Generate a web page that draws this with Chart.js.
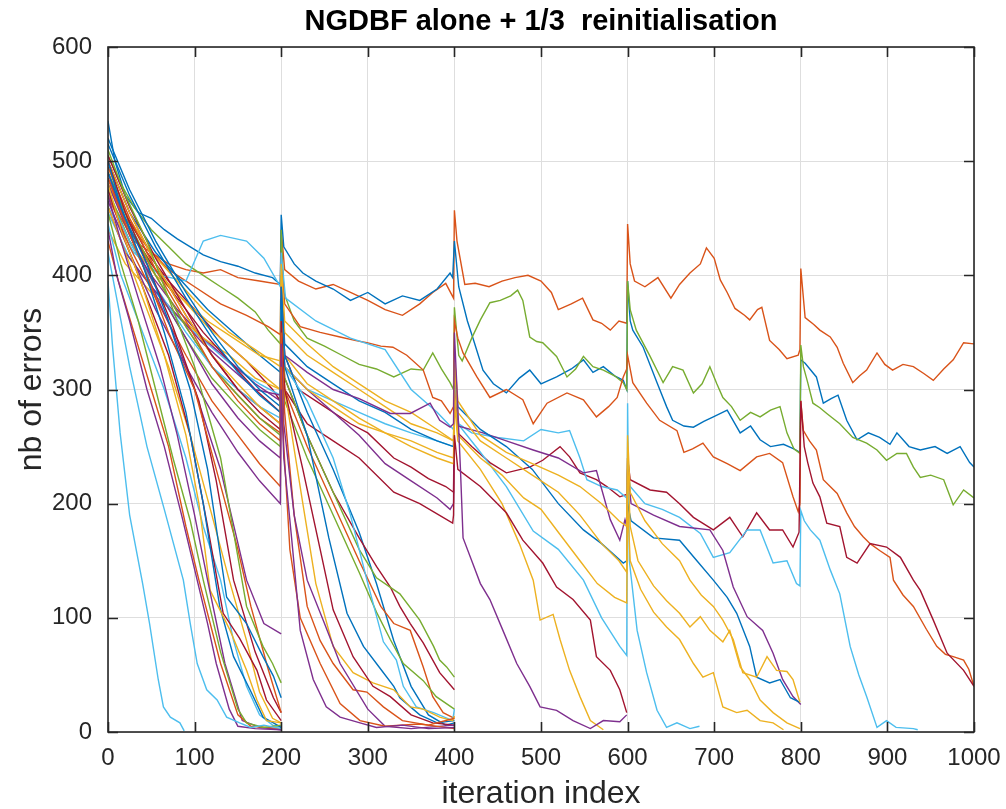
<!DOCTYPE html>
<html>
<head>
<meta charset="utf-8">
<title>NGDBF alone + 1/3 reinitialisation</title>
<script src="https://cdn.jsdelivr.net/npm/chart.js@4.4.1/dist/chart.umd.min.js"></script>
<style>
  html, body { margin: 0; padding: 0; background: #fff; }
  #wrap { width: 1006px; height: 809px; }
</style>
</head>
<body>
<div id="wrap"><canvas id="chart" width="1006" height="809"></canvas></div>
<script>
// error count per iteration, one array of [iteration, errors] per decoding run
// runs that converge before the first reinitialisation
const runA1 = [[0,395],[5,340],[14,262],[25,190],[40,130],[48,95],[58,46],[64,22],[72,13],[83,8],[88,1]];
const runA2 = [[0,420],[10,380],[25,320],[45,250],[65,195],[87,133],[95,95],[103,60],[114,37],[126,28],[137,13],[152,8],[165,4],[180,6],[200,3]];
const runA3 = [[0,440],[10,400],[25,360],[45,300],[65,250],[85,190],[103,133],[115,95],[125,60],[140,20],[150,5],[170,3],[200,2]];
const runA4 = [[0,455],[15,410],[35,360],[55,300],[75,240],[95,185],[110,133],[130,70],[150,20],[160,8],[180,4],[200,6]];
const runA5 = [[0,430],[12,395],[30,350],[50,300],[70,250],[90,180],[105,133],[130,60],[150,15],[165,5],[200,3]];
const runA6 = [[0,470],[15,430],[35,380],[60,320],[80,260],[100,190],[115,133],[135,60],[155,10],[175,4],[200,2]];
const runA7 = [[0,480],[15,440],[40,390],[65,330],[90,260],[105,200],[118,124],[141,89],[160,54],[172,28],[183,10],[200,8]];
const runA8 = [[0,500],[15,460],[40,410],[65,350],[90,280],[110,200],[129,110],[145,66],[164,37],[179,13],[191,8],[200,4]];
const runA9 = [[0,475],[20,430],[45,380],[70,330],[95,260],[115,180],[133,104],[152,82],[172,54],[183,28],[200,10]];
const runA10 = [[0,490],[20,450],[45,410],[70,360],[95,300],[115,230],[137,118],[160,95],[179,66],[191,49],[200,30]];
const runA11 = [[0,510],[20,470],[45,430],[70,380],[100,320],[130,240],[160,110],[179,75],[190,60],[200,43]];
const runA12 = [[0,485],[20,445],[45,400],[70,350],[100,300],[125,230],[150,160],[165,110],[185,55],[200,17]];
const runA13 = [[0,500],[20,455],[45,410],[75,355],[105,290],[125,220],[145,133],[170,70],[191,30],[200,17]];
const runA14 = [[0,445],[15,400],[40,350],[65,300],[90,240],[110,180],[130,133],[145,80],[160,40],[175,15],[190,6],[200,4]];
const runA15 = [[0,460],[20,420],[45,370],[70,320],[95,260],[120,190],[140,133],[160,80],[175,35],[190,12],[200,8]];
const runA16 = [[0,490],[20,445],[45,400],[75,350],[100,300],[130,230],[160,133],[180,95],[200,86]];

// runs that converge between 200 and 400
const runB1 = [[0,465],[25,420],[55,370],[90,320],[120,280],[150,245],[175,220],[199,200],[200,300],[203,240],[212,170],[222,89],[237,46],[252,22],[268,13],[291,8],[310,4],[340,6],[370,3],[400,4]];
const runB2 = [[0,470],[25,425],[55,380],[90,330],[120,290],[150,260],[175,235],[199,215],[200,320],[203,250],[210,160],[222,100],[245,60],[268,25],[291,10],[320,5],[360,7],[400,3]];
const runB3 = [[0,480],[25,435],[55,390],[90,345],[120,305],[150,275],[175,255],[199,240],[200,340],[203,270],[215,190],[230,133],[250,95],[268,60],[300,20],[320,5],[350,3],[400,6]];
const runB4 = [[0,495],[25,450],[55,405],[90,360],[120,320],[150,290],[175,270],[199,255],[200,350],[204,280],[215,190],[230,110],[245,80],[260,60],[283,37],[299,35],[318,22],[340,10],[370,6],[400,12]];
const runB5 = [[0,505],[25,460],[55,415],[90,370],[120,330],[150,300],[175,280],[199,265],[200,360],[204,300],[225,230],[245,160],[260,107],[283,66],[306,40],[326,31],[350,15],[375,8],[400,6]];
const runB6 = [[0,500],[25,455],[55,410],[90,365],[120,330],[150,305],[175,285],[199,270],[200,360],[204,300],[225,200],[240,130],[260,75],[283,52],[306,43],[330,37],[349,22],[364,20],[383,13],[398,10],[400,14]];
const runB7 = [[0,515],[25,470],[55,425],[90,380],[120,345],[150,315],[175,295],[199,280],[200,380],[204,320],[230,260],[255,170],[276,104],[295,75],[315,55],[330,40],[337,30],[360,15],[380,8],[400,10]];
const runB8 = [[0,470],[25,430],[55,390],[90,350],[120,320],[150,300],[175,285],[199,275],[200,370],[204,320],[230,290],[260,240],[280,190],[299,133],[318,79],[333,63],[341,40],[356,22],[376,17],[398,10],[400,20]];
const runB9 = [[0,490],[25,445],[55,400],[90,355],[120,320],[150,295],[175,275],[199,260],[200,370],[204,310],[230,260],[260,210],[290,160],[310,135],[337,121],[360,98],[376,75],[383,63],[391,57],[400,48]];
const runB10 = [[0,475],[25,430],[55,390],[90,345],[120,310],[150,285],[175,265],[199,250],[200,350],[204,290],[230,240],[260,190],[290,140],[310,105],[326,81],[341,60],[364,45],[379,31],[400,20]];
const runB11 = [[0,500],[25,455],[55,410],[90,365],[120,330],[150,300],[175,285],[199,270],[200,370],[204,310],[230,260],[260,210],[290,170],[310,145],[326,127],[337,110],[349,95],[364,78],[383,52],[400,37]];
const runB12 = [[0,485],[25,440],[55,400],[90,355],[120,320],[150,295],[175,275],[199,262],[200,360],[204,300],[230,250],[260,200],[290,150],[315,110],[330,95],[349,89],[364,57],[375,31],[387,17],[400,12]];
const runB13 = [[0,520],[25,475],[55,430],[90,385],[120,350],[150,320],[175,300],[199,285],[200,390],[204,330],[230,280],[260,230],[290,175],[310,130],[330,80],[350,40],[370,15],[390,6],[400,8]];

// runs that stop between 400 and 600
const runP600 = [[0,460],[20,420],[50,390],[80,365],[110,340],[140,320],[170,300],[199,295],[200,390],[204,330],[230,315],[260,300],[290,292],[326,279],[349,279],[372,288],[383,273],[395,267],[399,270],[400,350],[403,300],[407,230],[410,170],[421,148],[430,130],[441,116],[456,89],[472,60],[487,40],[499,22],[518,19],[537,10],[557,3],[572,10],[591,9],[599,15]];
const runR600 = [[0,485],[25,440],[50,410],[80,380],[110,350],[140,325],[170,300],[199,280],[200,370],[204,300],[230,270],[260,255],[290,240],[330,210],[360,200],[398,183],[399,190],[400,260],[404,230],[430,215],[460,192],[479,168],[502,148],[518,127],[537,116],[557,98],[564,66],[580,54],[591,37],[599,17]];
const runY572 = [[0,480],[25,440],[55,405],[85,380],[115,355],[145,335],[175,315],[199,300],[200,390],[204,330],[230,305],[260,290],[290,275],[320,262],[350,250],[380,240],[399,235],[400,290],[404,255],[430,230],[455,200],[475,165],[491,133],[499,98],[514,103],[522,81],[533,54],[545,31],[557,10],[572,2]];

// runs that stop between 600 and 800
const runYa = [[0,495],[20,455],[50,420],[80,395],[110,370],[140,350],[170,335],[199,320],[200,400],[204,350],[230,330],[260,315],[290,300],[320,285],[350,270],[380,262],[399,255],[400,320],[404,280],[430,255],[460,240],[490,225],[520,210],[545,190],[570,165],[590,150],[599,140],[600,240],[603,180],[612,150],[630,128],[645,115],[660,104],[672,92],[684,101],[695,89],[710,79],[718,89],[730,57],[741,46],[753,28],[768,17],[784,8],[799,3]];
const runYb = [[0,440],[20,410],[50,385],[80,365],[110,345],[140,330],[170,310],[199,300],[200,380],[204,320],[230,300],[260,285],[290,270],[320,262],[350,255],[380,245],[399,240],[400,300],[404,260],[430,240],[455,225],[480,205],[500,195],[520,175],[545,150],[565,130],[585,118],[599,113],[600,200],[603,150],[615,125],[630,105],[645,92],[660,81],[676,60],[687,48],[699,52],[710,22],[726,17],[738,19],[753,10],[768,8],[780,2]];
const runYc = [[0,470],[25,430],[55,400],[85,380],[115,360],[145,345],[175,330],[199,325],[200,410],[204,360],[230,340],[260,320],[290,305],[320,290],[350,280],[380,265],[399,255],[400,330],[404,290],[430,260],[460,245],[490,235],[520,225],[545,215],[570,200],[590,185],[599,180],[600,260],[603,210],[620,185],[640,165],[660,150],[672,133],[685,120],[699,110],[710,98],[722,81],[733,52],[749,48],[761,66],[772,54],[784,53],[791,46],[799,26]];
const runB800 = [[0,500],[25,455],[55,420],[85,395],[115,370],[145,350],[175,330],[199,315],[200,400],[204,340],[230,320],[260,305],[290,290],[320,280],[350,265],[380,255],[399,250],[400,320],[404,285],[430,265],[460,250],[490,230],[520,200],[549,177],[570,165],[595,148],[599,150],[600,200],[604,185],[630,170],[660,168],[680,150],[699,133],[715,118],[726,104],[741,75],[749,48],[764,43],[776,46],[788,30],[799,26]];
const runP800 = [[0,470],[25,430],[50,400],[80,370],[110,345],[140,325],[170,305],[199,290],[200,380],[204,320],[230,300],[260,280],[290,260],[320,235],[350,220],[380,205],[395,195],[399,200],[400,300],[404,268],[433,262],[460,255],[491,247],[520,240],[549,227],[564,229],[580,186],[591,168],[597,186],[599,180],[600,230],[604,200],[630,190],[660,180],[695,177],[710,159],[722,127],[738,101],[756,89],[768,69],[779,46],[791,31],[800,24]];
const runLB683 = [[0,455],[25,415],[55,385],[85,360],[115,340],[145,320],[175,305],[199,295],[200,380],[204,320],[230,300],[260,290],[290,280],[320,270],[350,262],[380,255],[399,250],[400,310],[404,270],[430,245],[460,215],[491,176],[520,160],[549,133],[570,100],[591,75],[599,67],[600,288],[602,150],[611,89],[622,52],[634,19],[645,4],[657,8],[672,3],[683,5]];

// runs still decoding after the last reinitialisation
const runLB935 = [[0,460],[30,420],[60,400],[90,395],[110,430],[130,435],[160,430],[180,415],[199,390],[200,420],[205,380],[240,360],[280,345],[320,335],[350,300],[380,280],[399,265],[400,300],[405,270],[420,262],[450,258],[480,255],[500,265],[520,262],[533,264],[545,240],[553,221],[570,215],[588,212],[599,205],[600,230],[603,215],[620,200],[640,195],[660,188],[684,174],[699,153],[718,157],[738,177],[753,177],[768,148],[784,150],[795,130],[799,128],[800,194],[804,185],[811,177],[822,168],[834,142],[845,121],[857,75],[867,50],[876,31],[888,4],[899,10],[910,4],[930,3],[935,2]];
const runR1000 = [[0,490],[20,455],[45,420],[70,395],[100,370],[130,345],[160,325],[190,300],[199,290],[200,400],[204,330],[220,300],[250,285],[280,270],[300,262],[330,240],[350,232],[370,222],[390,215],[399,210],[400,300],[404,262],[420,250],[441,236],[460,227],[487,232],[502,238],[522,250],[533,241],[545,227],[564,221],[576,215],[591,206],[599,208],[600,240],[603,221],[626,212],[645,210],[660,200],[676,188],[699,177],[718,188],[733,171],[749,192],[764,177],[779,177],[791,162],[798,175],[800,290],[804,250],[808,236],[814,218],[822,206],[830,183],[845,180],[853,153],[865,148],[880,165],[899,162],[915,153],[930,133],[938,124],[953,98],[969,69],[988,54],[1000,40]];
const runO1000b = [[0,480],[20,450],[45,425],[70,405],[100,390],[130,375],[160,365],[185,355],[199,348],[200,420],[204,375],[222,355],[245,350],[268,346],[285,343],[299,341],[315,338],[329,337],[345,330],[364,317],[375,293],[385,290],[395,279],[399,285],[400,360],[404,345],[410,332],[426,311],[441,293],[460,300],[479,291],[491,270],[507,288],[530,297],[549,291],[564,276],[578,285],[588,293],[595,311],[599,318],[600,330],[606,306],[622,288],[637,273],[657,264],[665,245],[675,248],[687,253],[699,241],[715,235],[730,229],[749,241],[764,244],[779,236],[791,206],[797,193],[799,200],[800,290],[803,264],[810,255],[818,247],[826,221],[842,209],[853,192],[862,180],[872,171],[880,165],[891,159],[903,153],[907,133],[918,120],[930,110],[945,90],[957,75],[967,68],[976,66],[988,63],[994,55],[1000,40]];
const runG1000 = [[0,505],[15,480],[30,460],[50,440],[70,425],[90,410],[110,400],[130,390],[150,380],[170,368],[185,352],[199,340],[200,440],[203,385],[215,360],[230,345],[250,338],[270,330],[290,322],[310,318],[330,311],[350,318],[364,317],[375,332],[385,318],[395,306],[399,300],[400,372],[405,330],[409,325],[420,345],[430,361],[441,376],[453,378],[465,382],[473,387],[479,378],[487,346],[495,342],[502,341],[518,329],[530,311],[540,318],[549,329],[560,320],[572,317],[585,312],[595,306],[599,300],[600,395],[603,370],[610,352],[626,329],[641,306],[652,320],[664,317],[676,297],[686,305],[695,320],[703,305],[710,293],[720,285],[730,273],[742,280],[753,276],[765,282],[776,285],[784,262],[792,248],[799,244],[800,339],[803,320],[808,306],[814,288],[822,284],[830,279],[845,270],[860,258],[876,253],[888,247],[899,238],[911,244],[922,244],[930,232],[938,223],[950,225],[965,221],[976,199],[988,212],[1000,205]];
const runB1000 = [[0,535],[8,500],[20,470],[35,455],[50,450],[65,440],[80,432],[95,425],[110,418],[130,412],[150,408],[170,402],[190,398],[199,392],[200,453],[203,425],[215,410],[225,402],[240,395],[260,388],[280,378],[300,385],[320,375],[340,382],[360,378],[380,388],[395,402],[398,398],[400,430],[405,390],[415,360],[421,346],[433,317],[445,305],[460,297],[475,310],[487,317],[500,305],[518,311],[535,318],[549,326],[560,315],[572,320],[585,312],[595,308],[599,300],[600,395],[603,360],[606,352],[618,337],[634,306],[645,285],[652,273],[665,268],[676,267],[688,272],[699,276],[715,282],[730,262],[742,268],[753,256],[765,250],[780,252],[792,248],[799,245],[800,326],[805,323],[818,311],[826,288],[835,292],[843,295],[853,273],[865,256],[878,262],[891,258],[903,252],[911,262],[925,250],[938,247],[955,250],[969,244],[984,250],[995,236],[1000,232]];
const runO1000a = [[0,470],[15,450],[30,430],[50,420],[70,410],[90,405],[110,402],[130,405],[150,398],[175,395],[199,392],[200,440],[204,405],[220,395],[240,388],[260,392],[280,385],[300,378],[320,370],[340,365],[360,375],[375,385],[390,393],[399,380],[400,457],[403,430],[412,392],[424,393],[440,390],[455,395],[470,398],[485,400],[500,395],[512,385],[520,370],[535,375],[548,380],[560,361],[570,358],[580,352],[590,360],[599,358],[600,445],[603,410],[608,395],[620,390],[635,398],[650,380],[660,392],[672,402],[684,410],[691,424],[700,415],[707,396],[715,385],[724,371],[735,365],[741,361],[750,370],[755,372],[764,343],[775,335],[784,327],[797,330],[799,335],[800,406],[803,380],[805,363],[815,357],[822,352],[834,346],[842,337],[849,323],[860,306],[868,312],[876,317],[888,332],[897,322],[906,317],[918,322],[930,320],[942,314],[953,308],[965,318],[976,326],[988,341],[1000,340]];

// axis ticks
const xTicks = [0, 100, 200, 300, 400, 500, 600, 700, 800, 900, 1000];
const yTicks = [0, 100, 200, 300, 400, 500, 600];

const COLORS = {
  blue: '#0072BD', orange: '#D95319', yellow: '#EDB120', purple: '#7E2F8E',
  green: '#77AC30', lblue: '#4DBEEE', red: '#A2142F'
};

const runs = [
  [runA1, 'lblue'], [runA2, 'lblue'], [runA3, 'purple'], [runA4, 'green'], [runA5, 'orange'],
  [runA6, 'purple'], [runA7, 'yellow'], [runA8, 'blue'], [runA9, 'red'], [runA10, 'blue'],
  [runA11, 'green'], [runA12, 'orange'], [runA13, 'red'], [runA14, 'lblue'], [runA15, 'yellow'],
  [runA16, 'purple'],
  [runB1, 'purple'], [runB2, 'orange'], [runB3, 'purple'], [runB4, 'orange'], [runB5, 'red'],
  [runB6, 'yellow'], [runB7, 'blue'], [runB8, 'lblue'], [runB9, 'green'], [runB10, 'green'],
  [runB11, 'red'], [runB12, 'orange'], [runB13, 'blue'],
  [runP600, 'purple'], [runR600, 'red'], [runY572, 'yellow'],
  [runYa, 'yellow'], [runYb, 'yellow'], [runYc, 'yellow'], [runB800, 'blue'], [runP800, 'purple'],
  [runLB683, 'lblue'],
  [runLB935, 'lblue'], [runR1000, 'red'], [runO1000b, 'orange'], [runG1000, 'green'],
  [runB1000, 'blue'], [runO1000a, 'orange']
];

const FONT = "'Liberation Sans', Arial, Helvetica, sans-serif";
const INK = '#262626';

// box, inward tick marks, title and axis labels drawn the way MATLAB does
const matlabFrame = {
  id: 'matlabFrame',
  afterDraw(chart) {
    const { ctx, chartArea: a, scales } = chart;
    ctx.save();
    ctx.strokeStyle = INK;
    ctx.lineWidth = 1.6;
    ctx.strokeRect(a.left, a.top, a.right - a.left, a.bottom - a.top);
    const len = 10;
    ctx.beginPath();
    xTicks.forEach(t => {
      const px = Math.round(scales.x.getPixelForValue(t)) + 0.5;
      ctx.moveTo(px, a.bottom); ctx.lineTo(px, a.bottom - len);
      ctx.moveTo(px, a.top); ctx.lineTo(px, a.top + len);
    });
    yTicks.forEach(t => {
      const py = Math.round(scales.y.getPixelForValue(t)) + 0.5;
      ctx.moveTo(a.left, py); ctx.lineTo(a.left + len, py);
      ctx.moveTo(a.right, py); ctx.lineTo(a.right - len, py);
    });
    ctx.stroke();

    ctx.fillStyle = '#000';
    ctx.textAlign = 'center';
    ctx.textBaseline = 'middle';
    ctx.font = 'bold 29px ' + FONT;
    ctx.fillText('NGDBF alone + 1/3  reinitialisation', (a.left + a.right) / 2, 22);

    ctx.fillStyle = INK;
    ctx.font = '32px ' + FONT;
    ctx.fillText('iteration index', (a.left + a.right) / 2, 794);
    ctx.translate(32, (a.top + a.bottom) / 2);
    ctx.rotate(-Math.PI / 2);
    ctx.fillText('nb of errors', 0, 0);
    ctx.restore();
  }
};

new Chart(document.getElementById('chart'), {
  type: 'line',
  data: {
    datasets: runs.map(([pts, c]) => ({
      data: pts.map(([x, y]) => ({ x, y })),
      borderColor: COLORS[c],
      borderWidth: 1.4,
      pointRadius: 0,
      fill: false,
      tension: 0
    }))
  },
  options: {
    responsive: false,
    animation: false,
    parsing: false,
    layout: { padding: { top: 47, right: 32, left: 0, bottom: 0 } },
    plugins: { legend: { display: false }, tooltip: { enabled: false } },
    scales: {
      x: {
        type: 'linear', min: 0, max: 1000,
        afterFit(s) { s.height = 77; s.paddingLeft = 0; s.paddingRight = 0; },
        afterBuildTicks(s) { s.ticks = xTicks.map(v => ({ value: v })); },
        grid: { color: '#dedede', lineWidth: 1, drawTicks: false },
        border: { display: false },
        ticks: { color: INK, font: { family: FONT, size: 24 }, padding: 12, maxRotation: 0, callback: v => String(v) }
      },
      y: {
        type: 'linear', min: 0, max: 600,
        afterFit(s) { s.width = 108; s.paddingTop = 0; s.paddingBottom = 0; },
        afterBuildTicks(s) { s.ticks = yTicks.map(v => ({ value: v })); },
        grid: { color: '#dedede', lineWidth: 1, drawTicks: false },
        border: { display: false },
        ticks: { color: INK, font: { family: FONT, size: 24 }, padding: 16, callback: v => String(v) }
      }
    }
  },
  plugins: [matlabFrame]
});
</script>
</body>
</html>
